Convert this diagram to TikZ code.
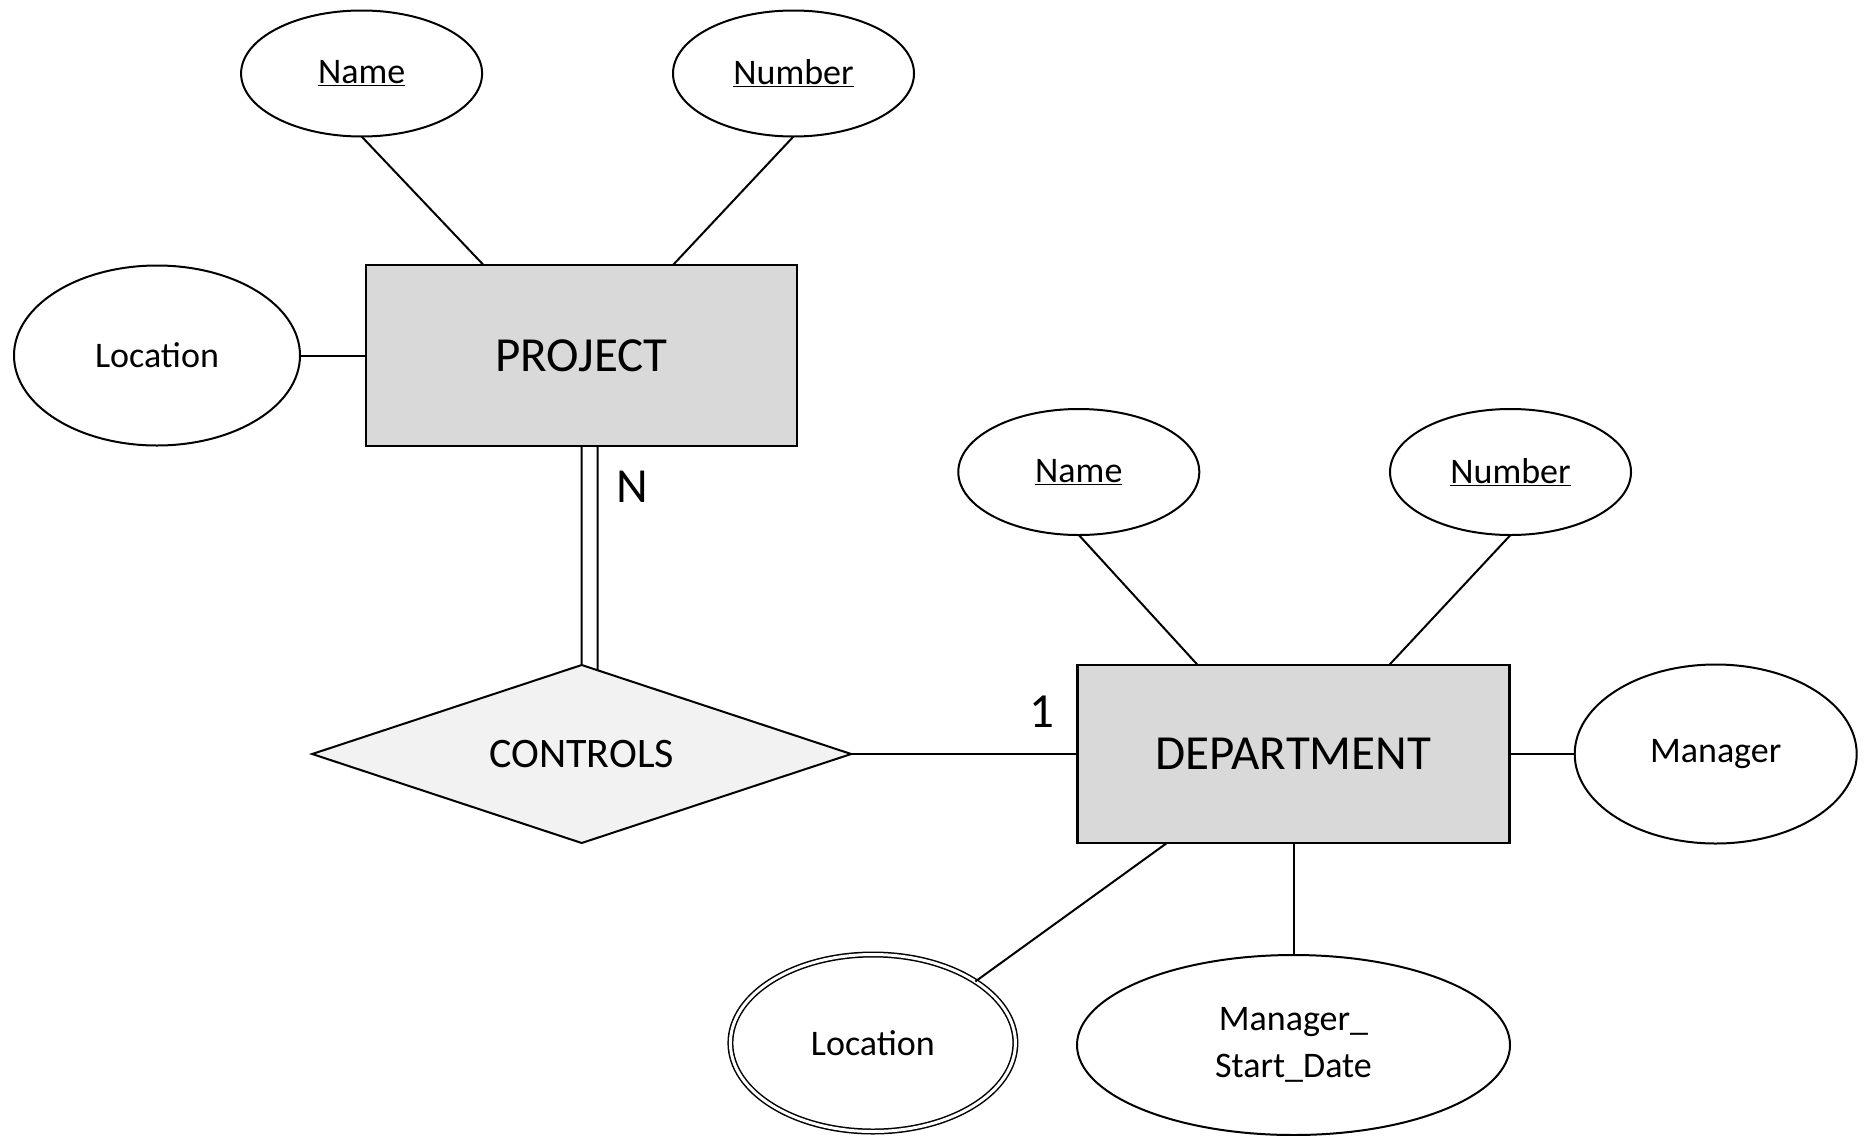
\documentclass[tikz,border=0pt]{standalone}
\usepackage{fontspec}
\setmainfont{Carlito}
\usetikzlibrary{shapes.geometric,calc}
\definecolor{entfill}{HTML}{D9D9D9}
\definecolor{relfill}{HTML}{F2F2F2}
\begin{document}
\begin{tikzpicture}[x=1pt,y=-1pt,
  every node/.style={inner sep=0pt, outer sep=0pt},
  attr/.style={ellipse, draw, line width=2pt, fill=white, font=\fontsize{36}{46.5}\selectfont},
  entity/.style={rectangle, draw, line width=2.2pt, fill=entfill, font=\fontsize{49}{58}\selectfont},
  rel/.style={diamond, aspect=3.03, draw, line width=2pt, fill=relfill, font=\fontsize{42}{50}\selectfont},
  link/.style={line width=2pt},
  card/.style={font=\fontsize{49}{58}\selectfont}]
\useasboundingbox (0,0) rectangle (1865,1135);

% PROJECT side
\node[entity, minimum width=431pt, minimum height=181pt] (proj) at (581.5,355.5) {PROJECT};
\node[attr, minimum width=241pt, minimum height=126pt] (pname) at (361.6,73.5) {\underline{Name}};
\node[attr, minimum width=241pt, minimum height=126pt] (pnum) at (793.5,73.5) {\underline{Number}};
\node[attr, minimum width=286pt, minimum height=180pt] (ploc) at (157,355.5) {Location};

% relationship
\node[rel, minimum width=539pt, minimum height=178pt] (ctrl) at (581.7,754) {CONTROLS};

% DEPARTMENT side
\node[entity, minimum width=432pt, minimum height=178pt] (dept) at (1293.5,754) {DEPARTMENT};
\node[attr, minimum width=241pt, minimum height=126pt] (dname) at (1078.8,472) {\underline{Name}};
\node[attr, minimum width=241pt, minimum height=126pt] (dnum) at (1510.5,472) {\underline{Number}};
\node[attr, minimum width=282pt, minimum height=179pt] (dmgr) at (1715.7,754) {Manager};
\node[attr, double, double distance=3pt, line width=1.5pt, minimum width=285pt, minimum height=177pt] (dloc) at (872.9,1043) {Location};
\node[attr, minimum width=433pt, minimum height=180pt, align=center] (dmsd) at (1293.5,1045) {Manager\_\\Start\_Date};

% connectors
\draw[link] (pname.south) -- ([xshift=-98pt]proj.north);
\draw[link] (pnum.south) -- ([xshift=91.5pt]proj.north);
\draw[link] (ploc.east) -- (proj.west);
\draw[link] (proj.south) -- (ctrl.north);
\draw[link] ([xshift=16pt]proj.south) -- ([xshift=16pt,yshift=-5.3pt]ctrl.north);
\draw[link] (ctrl.east) -- (dept.west);
\draw[link] (dname.south) -- ([xshift=-95.8pt]dept.north);
\draw[link] (dnum.south) -- ([xshift=95.7pt]dept.north);
\draw[link] (dept.east) -- (dmgr.west);
\draw[link] ([xshift=-126.6pt]dept.south) -- (dloc.31);
\draw[link] (dept.south) -- (dmsd.north);

% cardinalities
\node[card] (nlab) at (632,487) {N};
\node[card] (onelab) at (1042,712) {1};
\end{tikzpicture}
\end{document}
